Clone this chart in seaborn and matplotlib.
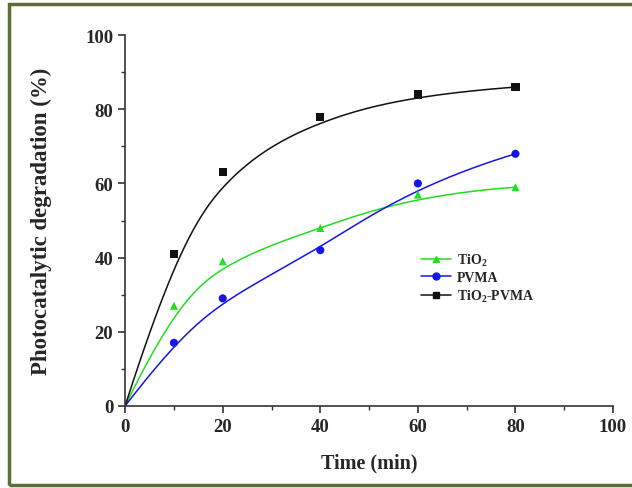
import numpy as np
import pandas as pd
import matplotlib
matplotlib.use("Agg")
import matplotlib.pyplot as plt
from matplotlib.lines import Line2D
from matplotlib.patches import Rectangle
from matplotlib.ticker import MultipleLocator
import seaborn as sns

time = [0, 10, 20, 40, 60, 80]
tio2 = [0, 27, 39, 48, 57, 59]
pvma = [0, 17, 29, 42, 60, 68]
tio2_pvma = [0, 41, 63, 78, 84, 86]
series_names = ["TiO$_2$", "PVMA", "TiO$_2$-PVMA"]
colors = ["#22dd22", "#1515e8", "#111111"]
markers = ["^", "o", "s"]
x_ticks = [0, 20, 40, 60, 80, 100]
y_ticks = [0, 20, 40, 60, 80, 100]

sns.set_style("ticks")
plt.rcParams["font.family"] = ["Liberation Serif", "DejaVu Serif"]
plt.rcParams["font.weight"] = "bold"
plt.rcParams["mathtext.fontset"] = "custom"
plt.rcParams["mathtext.rm"] = "Liberation Serif:bold"
plt.rcParams["mathtext.bf"] = "Liberation Serif:bold"
plt.rcParams["mathtext.it"] = "Liberation Serif:bold"
plt.rcParams["mathtext.default"] = "rm"


def bspline(px, py, degree=3, n=400):
    """Clamped uniform B-spline using the data points as control points."""
    px = np.asarray(px, float)
    py = np.asarray(py, float)
    m = len(px)
    inner = np.arange(1, m - degree)
    knots = np.concatenate([np.zeros(degree + 1), inner,
                            np.full(degree + 1, m - degree)]).astype(float)
    u = np.linspace(0, m - degree, n)
    u[-1] -= 1e-9

    def basis(i, k, u):
        if k == 0:
            return ((knots[i] <= u) & (u < knots[i + 1])).astype(float)
        d1 = knots[i + k] - knots[i]
        d2 = knots[i + k + 1] - knots[i + 1]
        a = (u - knots[i]) / d1 * basis(i, k - 1, u) if d1 > 0 else 0
        b = (knots[i + k + 1] - u) / d2 * basis(i + 1, k - 1, u) if d2 > 0 else 0
        return a + b

    B = np.array([basis(i, degree, u) for i in range(m)])
    return px @ B, py @ B


fig = plt.figure(figsize=(6.32, 4.89), dpi=100)
ax = fig.add_axes([0.198, 0.168, 0.772, 0.758])

rows = []
fits = []
for name, vals in zip(series_names, [tio2, pvma, tio2_pvma]):
    cx, cy = bspline(time, vals)
    fits.append(pd.DataFrame({"t": cx, "y": cy, "s": name}))
    for t, v in zip(time, vals):
        rows.append({"t": t, "y": v, "s": name})
pts = pd.DataFrame(rows)
fit_df = pd.concat(fits)

pal = dict(zip(series_names, colors))
sns.lineplot(data=fit_df, x="t", y="y", hue="s", units="s", estimator=None,
             palette=pal, ax=ax, legend=False, linewidth=1.1, sort=False)
sns.scatterplot(data=pts[pts.t > 0], x="t", y="y", hue="s", style="s",
                markers=dict(zip(series_names, markers)), palette=pal,
                ax=ax, legend=False, s=34, edgecolor="none", zorder=3)

ax.set_xlim(0, 100)
ax.set_ylim(0, 100)
ax.set_xticks(x_ticks)
ax.set_yticks(y_ticks)
ax.xaxis.set_minor_locator(MultipleLocator(10))
ax.yaxis.set_minor_locator(MultipleLocator(10))
ax.tick_params(which="major", length=5, width=1.2, labelsize=13.5, color="#333333")
ax.tick_params(which="minor", length=3, width=1.0, color="#333333")
for lab in ax.get_xticklabels() + ax.get_yticklabels():
    lab.set_fontweight("bold")
sns.despine(ax=ax)
for sp in ["left", "bottom"]:
    ax.spines[sp].set_linewidth(1.2)
    ax.spines[sp].set_color("#333333")
ax.set_xlabel("Time (min)", fontsize=14.5, fontweight="bold", labelpad=13)
ax.set_ylabel("Photocatalytic degradation (%)", fontsize=16.5, fontweight="bold", labelpad=24)

handles = [Line2D([0], [0], color=c, marker=m, markersize=5, linewidth=1.1,
                  markeredgecolor=c)
           for c, m in zip(colors, markers)]
ax.legend(handles, series_names, loc="upper left", bbox_to_anchor=(0.58, 0.45),
          frameon=False, handlelength=2.2, handletextpad=0.4,
          labelspacing=0.25, prop={"weight": "bold", "size": 10})

fig.patches.append(Rectangle((0.014, 0.007), 1.2, 0.983, transform=fig.transFigure,
                             fill=False, edgecolor="#5b7133", linewidth=2.5))

fig.savefig("out.png", dpi=100)
